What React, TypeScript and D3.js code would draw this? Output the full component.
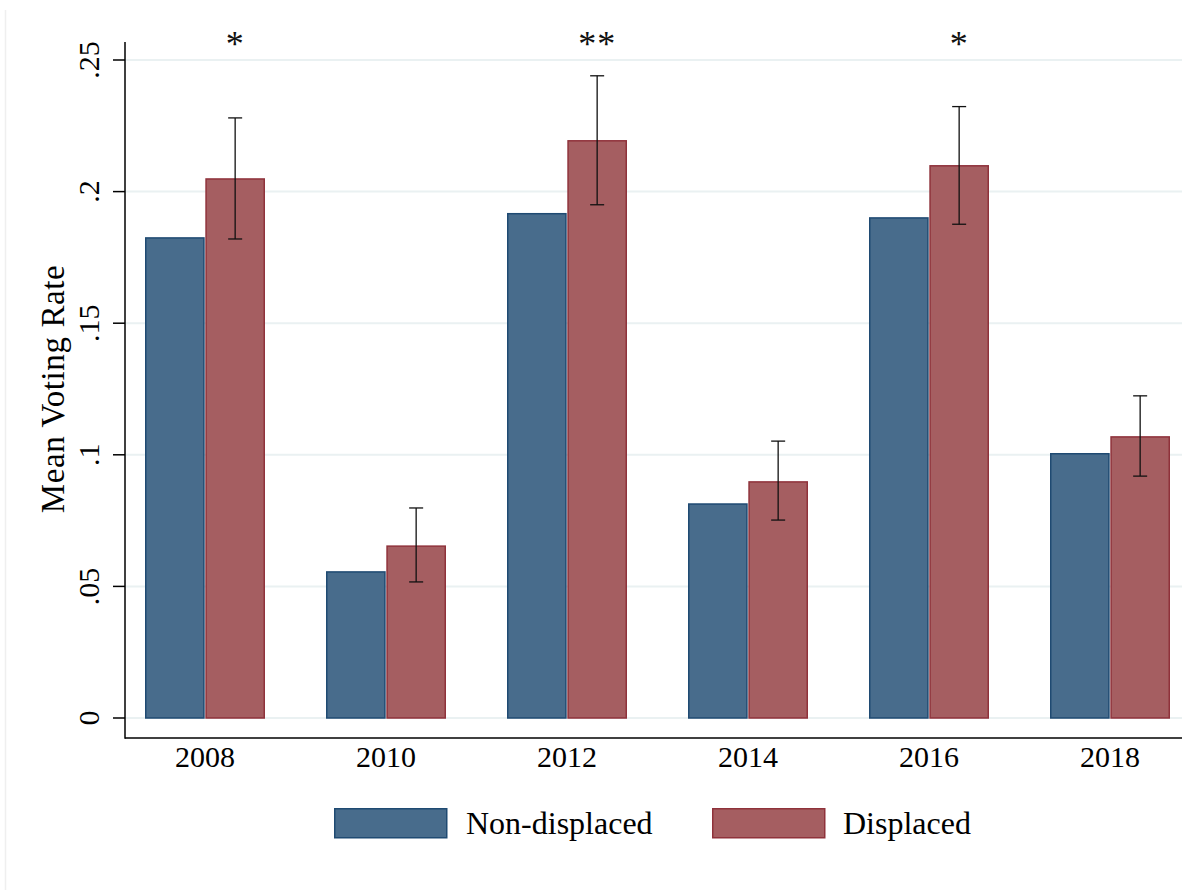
import React from "react";
import * as d3 from "d3";

// Election years and mean voting rates by group
const years = ["2008", "2010", "2012", "2014", "2016", "2018"];
const nonDisplaced = [0.1824, 0.0555, 0.1916, 0.0813, 0.19, 0.1004];
const displaced = [0.2048, 0.0653, 0.2193, 0.0897, 0.2098, 0.1068];
// 95% confidence interval for the displaced group
const ciLow = [0.182, 0.0517, 0.195, 0.0752, 0.1876, 0.0919];
const ciHigh = [0.228, 0.0798, 0.244, 0.1052, 0.2323, 0.1224];
// Significance stars for the difference
const stars = ["*", "", "**", "", "*", ""];
const yTicks = [0, 0.05, 0.1, 0.15, 0.2, 0.25];
const yTickLabels = ["0", ".05", ".1", ".15", ".2", ".25"];
const seriesNames = ["Non-displaced", "Displaced"];

const W = 1182;
const H = 890;
const FONT = "'Liberation Serif', 'DejaVu Serif', serif";

const BLUE_FILL = "#486c8c";
const BLUE_LINE = "#1f4a72";
const RED_FILL = "#a55e61";
const RED_LINE = "#8f323b";
const GRID = "#eaf1f2";

export default function App() {
  const axisX = 125;
  const axisBottom = 738;
  const y = d3.scaleLinear().domain([0, 0.25]).range([718, 60]);
  const x = d3.scaleBand<string>().domain(years).range([114.5, 1200.5]).padding(0);
  const inner = d3
    .scaleBand<string>()
    .domain(["nd", "d"])
    .range([x.bandwidth() / 2 - 60, x.bandwidth() / 2 + 60])
    .paddingInner(0.01);
  const cx = (yr: string) => (x(yr) as number) + x.bandwidth() / 2;

  return (
    <svg
      width={W}
      height={H}
      style={{ position: "absolute", left: 0, top: 0, background: "#fff" }}
      fontFamily={FONT}
    >
      <rect x={0} y={0} width={W} height={H} fill="#fff" />
      <line x1={5.5} x2={5.5} y1={10} y2={H} stroke="#efefef" strokeWidth={1.5} />

      {/* horizontal grid */}
      {yTicks.map((t) => (
        <line key={"g" + t} x1={axisX} x2={W} y1={y(t)} y2={y(t)} stroke={GRID} strokeWidth={2} />
      ))}

      {/* bars */}
      {years.map((yr, i) => {
        const gx = x(yr) as number;
        const bw = inner.bandwidth();
        const xn = gx + (inner("nd") as number);
        const xd = gx + (inner("d") as number);
        return (
          <g key={yr}>
            <rect
              x={xn + 0.75}
              y={y(nonDisplaced[i])}
              width={bw - 1.5}
              height={y(0) - y(nonDisplaced[i])}
              fill={BLUE_FILL}
              stroke={BLUE_LINE}
              strokeWidth={1.5}
            />
            <rect
              x={xd + 0.75}
              y={y(displaced[i])}
              width={bw - 1.5}
              height={y(0) - y(displaced[i])}
              fill={RED_FILL}
              stroke={RED_LINE}
              strokeWidth={1.5}
            />
          </g>
        );
      })}

      {/* confidence intervals */}
      {years.map((yr, i) => {
        const gx = x(yr) as number;
        const c = gx + (inner("d") as number) + inner.bandwidth() / 2;
        return (
          <g key={"ci" + yr} stroke="#111" strokeWidth={1.3}>
            <line x1={c} x2={c} y1={y(ciHigh[i])} y2={y(ciLow[i])} />
            <line x1={c - 7} x2={c + 7} y1={y(ciHigh[i])} y2={y(ciHigh[i])} />
            <line x1={c - 7} x2={c + 7} y1={y(ciLow[i])} y2={y(ciLow[i])} />
          </g>
        );
      })}

      {/* significance stars */}
      {years.map((yr, i) => {
        const gx = x(yr) as number;
        const c = gx + (inner("d") as number) + inner.bandwidth() / 2;
        return (
          <text key={"s" + yr} x={c} y={56} textAnchor="middle" fontSize={36} fill="#111" letterSpacing={1}>
            {stars[i]}
          </text>
        );
      })}

      {/* axes */}
      <line x1={axisX} x2={axisX} y1={42} y2={axisBottom + 0.75} stroke="#000" strokeWidth={1.5} />
      <line x1={axisX} x2={W} y1={axisBottom} y2={axisBottom} stroke="#000" strokeWidth={1.5} />
      {yTicks.map((t, i) => (
        <g key={"t" + t}>
          <line x1={113} x2={axisX} y1={y(t)} y2={y(t)} stroke="#000" strokeWidth={1.5} />
          <text
            transform={`translate(99,${y(t)}) rotate(-90)`}
            textAnchor="middle"
            fontSize={30}
            fill="#000"
          >
            {yTickLabels[i]}
          </text>
        </g>
      ))}
      <text
        transform={`translate(64,389) rotate(-90)`}
        textAnchor="middle"
        fontSize={33}
        letterSpacing={0.6}
        fill="#000"
      >
        Mean Voting Rate
      </text>
      {years.map((yr) => (
        <text key={"x" + yr} x={cx(yr)} y={767} textAnchor="middle" fontSize={30} fill="#000">
          {yr}
        </text>
      ))}

      {/* legend */}
      <rect x={334.75} y={808.75} width={112} height={29} fill={BLUE_FILL} stroke={BLUE_LINE} strokeWidth={1.5} />
      <text x={466} y={834} fontSize={32} fill="#000">
        {seriesNames[0]}
      </text>
      <rect x={712.75} y={808.75} width={112} height={29} fill={RED_FILL} stroke={RED_LINE} strokeWidth={1.5} />
      <text x={843} y={834} fontSize={32} fill="#000">
        {seriesNames[1]}
      </text>
    </svg>
  );
}
